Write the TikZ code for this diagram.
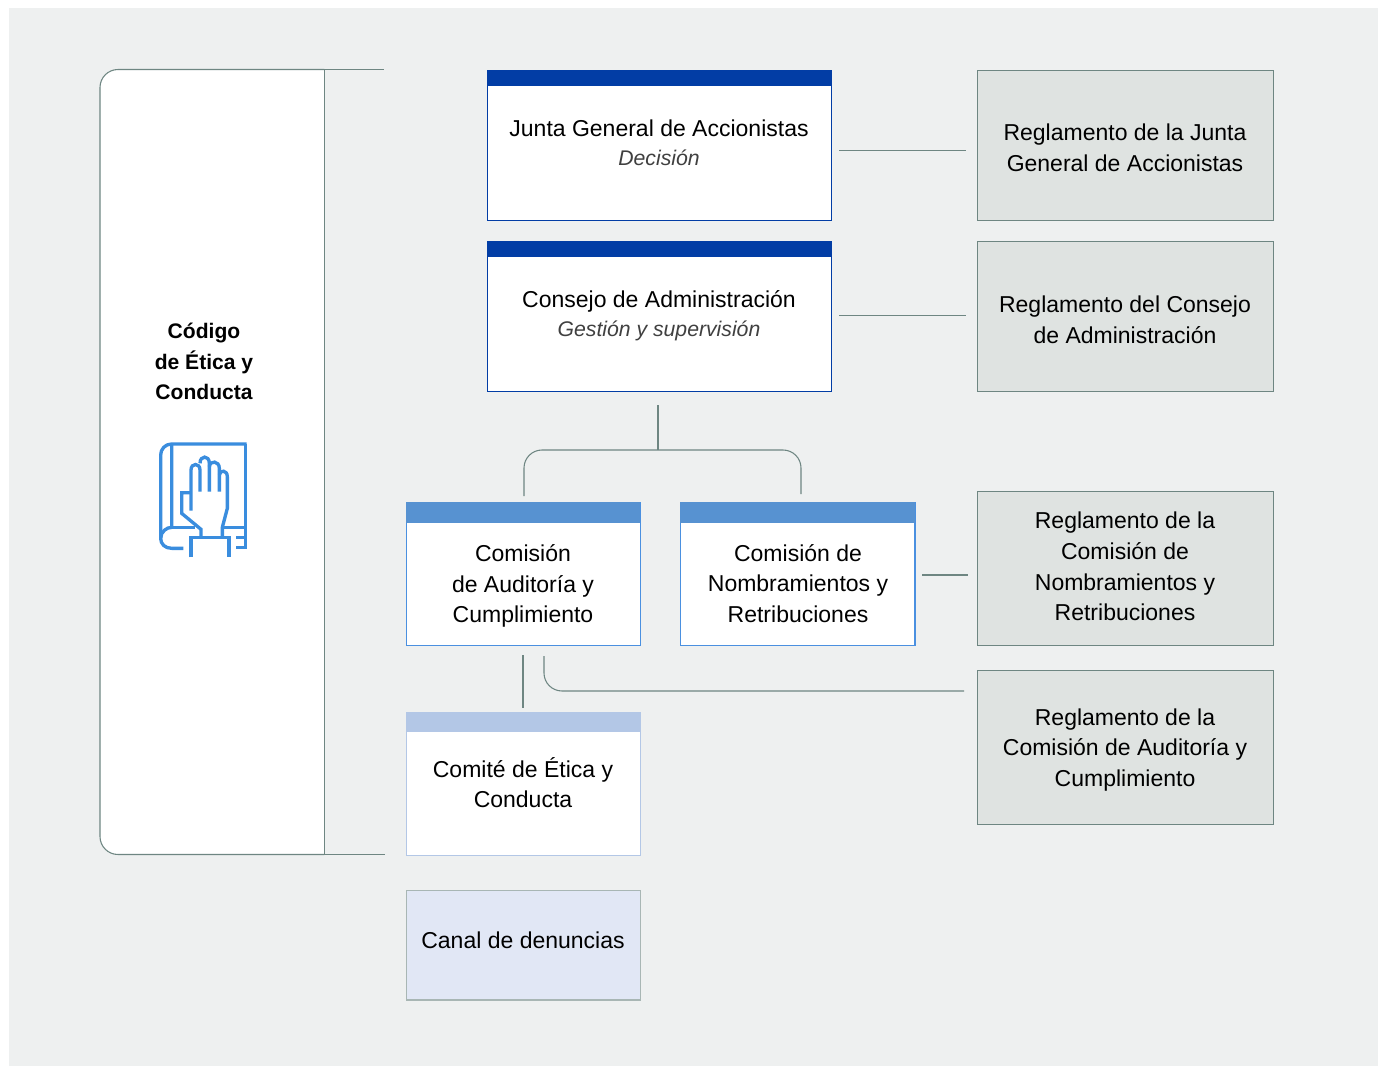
\documentclass[tikz,border=0pt]{standalone}
\usepackage{fontspec}
\setmainfont{Liberation Sans}
\usepackage{tikz}

\definecolor{panelgrey}{RGB}{238,240,240}
\definecolor{linegrey}{RGB}{110,134,130}
\definecolor{rulefill}{RGB}{223,227,225}
\definecolor{navyblue}{RGB}{2,61,165}
\definecolor{midblue}{RGB}{87,146,209}
\definecolor{midedge}{RGB}{74,144,224}
\definecolor{paleblue}{RGB}{179,199,230}
\definecolor{canalfill}{RGB}{225,231,245}
\definecolor{iconblue}{RGB}{58,141,222}

\newcommand{\subline}[1]{{\fontsize{15.9}{23}\selectfont\color{black!75}\textit{#1}}}

\tikzset{
  boxbase/.style={draw,anchor=north west,inner sep=0pt,line width=1pt},
  bandbase/.style={anchor=north west,inner sep=0pt,minimum height=#1},
  boxtext/.style={inner sep=0.75pt,align=center,font=\fontsize{17.25}{23}\selectfont},
  boldtext/.style={inner sep=0.75pt,align=center,font=\fontsize{15.8}{23}\selectfont\bfseries},
  link/.style={draw=linegrey,line width=0.8pt},
  linkround/.style={link,rounded corners=13.5}
}

\begin{document}
\begin{tikzpicture}[x=0.75pt,y=0.75pt,yscale=-1,xscale=1]
    \useasboundingbox (0,0) rectangle (1383,1066);
    %Shape: Background
    \fill [panelgrey] (9,8) rectangle (1378,1066);

    %Shape: Code panel
    \coordinate (panelnw) at (324.4,69.5);
    \coordinate (panelsw) at (324.4,854.5);
    \coordinate (paneltop) at (384,69.5);
    \coordinate (panelbot) at (385,854.5);
    \draw [link,fill=white,rounded corners=13.5] (panelsw) -- (100,854.5) -- (100,69.5) -- (panelnw);
    \draw [link] (panelnw) -- (panelsw);
    \draw [link] (panelnw) -- (paneltop);
    \draw [link] (panelsw) -- (panelbot);

    %Shape: Main boxes
    \node (junta) [boxbase,draw=navyblue,fill=white,minimum width=258.2pt,minimum height=112.5pt] at (486.5,70) {};
    \node (juntaband) [bandbase=12pt,fill=navyblue,minimum width=258.2pt] at (486.5,70) {};
    \node (consejo) [boxbase,draw=navyblue,fill=white,minimum width=258.2pt,minimum height=112.5pt] at (486.5,241) {};
    \node (consejoband) [bandbase=12pt,fill=navyblue,minimum width=258.2pt] at (486.5,241) {};

    %Shape: Committee boxes
    \node (auditoria) [boxbase,draw=midedge,fill=white,minimum width=175.8pt,minimum height=107.25pt] at (405.5,502) {};
    \node (auditoriaband) [bandbase=15.75pt,fill=midblue,minimum width=175.8pt] at (405.5,502) {};
    \node (nombramientos) [boxbase,draw=midedge,fill=white,minimum width=175.8pt,minimum height=107.25pt] at (680,502) {};
    \node (nombramientosband) [bandbase=15.75pt,fill=midblue,minimum width=175.8pt] at (680,502) {};
    \node (comite) [boxbase,draw=paleblue,fill=white,minimum width=175.8pt,minimum height=107.25pt] at (405.5,712) {};
    \node (comiteband) [bandbase=15pt,fill=paleblue,minimum width=175.8pt] at (405.5,712) {};
    \node (canal) [boxbase,draw=linegrey!60,fill=canalfill,minimum width=175.8pt,minimum height=82.2pt] at (405.5,889.6) {};

    %Shape: Rule boxes
    \node (regjunta) [boxbase,draw=linegrey,fill=rulefill,minimum width=222.3pt,minimum height=112.5pt] at (976.5,70) {};
    \node (regconsejo) [boxbase,draw=linegrey,fill=rulefill,minimum width=222.3pt,minimum height=112.5pt] at (976.5,241) {};
    \node (regnombra) [boxbase,draw=linegrey,fill=rulefill,minimum width=222.3pt,minimum height=115.5pt] at (976.5,490.6) {};
    \node (regaudit) [boxbase,draw=linegrey,fill=rulefill,minimum width=222.3pt,minimum height=115.5pt] at (976.5,669.6) {};

    %Shape: Connectors
    \coordinate (c1a) at (839,150.5);
    \coordinate (c1b) at (966,150.5);
    \draw [link] (c1a) -- (c1b);
    \coordinate (c2a) at (839,315.7);
    \coordinate (c2b) at (966,315.7);
    \draw [link] (c2a) -- (c2b);
    \coordinate (c3a) at (658,405);
    \coordinate (c3b) at (658,450);
    \draw [link] (c3a) -- (c3b);
    \coordinate (c4a) at (524,496);
    \coordinate (c4b) at (524,450);
    \coordinate (c4c) at (801,450);
    \coordinate (c4d) at (801,494);
    \draw [linkround] (c4a) -- (c4b) -- (c4c) -- (c4d);
    \coordinate (c5a) at (922,575);
    \coordinate (c5b) at (968,575);
    \draw [link] (c5a) -- (c5b);
    \coordinate (c6a) at (523,655);
    \coordinate (c6b) at (523,708);
    \draw [link] (c6a) -- (c6b);
    \coordinate (c7a) at (544,656);
    \coordinate (c7b) at (544,691);
    \coordinate (c7c) at (964,691);
    \draw [linkround] (c7a) -- (c7b) -- (c7c);

    %Shape: Icon
    \begin{scope}[shift={(130,420)},xscale=1/3,yscale=1/3,draw=iconblue,line width=2.5pt]
      \draw (350,72) -- (125,72) .. controls (105,72) and (92,88) .. (92,105) -- (92,355) .. controls (92,372) and (105,385) .. (125,385) -- (160,385);
      \draw (125,72) -- (125,322) .. controls (110,322) and (92,335) .. (92,355);
      \draw (125,322) -- (195,322);
      \draw (347,72) -- (347,385);
      \draw (283,322) -- (350,322);
      \draw (318,352) -- (350,352) (318,382) -- (350,382);
      \draw (183,412) -- (183,352) -- (297,352) -- (297,412);
      \draw (213,352) -- (213,328) -- (155,280) -- (155,218) -- (183,218);
      \draw (183,272) -- (183,150) .. controls (183,128) and (210,128) .. (210,150) -- (210,215);
      \draw (210,130) .. controls (210,105) and (238,105) .. (238,130) -- (238,215);
      \draw (238,140) .. controls (240,120) and (268,122) .. (268,145) -- (268,215);
      \draw (268,165) .. controls (270,148) and (292,150) .. (292,170) -- (292,265) -- (277,322) -- (277,352);
    \end{scope}

    % Text Node
    \node (codigo) [boldtext] at (204,361.5) {Código\\de Ética y\\Conducta};
    % Text Node
    \node (juntatext) [boxtext] at (659,143) {Junta General de Accionistas\\[-1.3pt]\subline{Decisión}};
    % Text Node
    \node (consejotext) [boxtext] at (659,315.5) {Consejo de Administración\\[-1.1pt]\subline{Gestión y supervisión}};
    % Text Node
    \node (auditoriatext) [boxtext] at (523,586) {Comisión\\de Auditoría y\\Cumplimiento};
    % Text Node
    \node (nombramientostext) [boxtext] at (798,583.5) {Comisión de\\Nombramientos y\\Retribuciones};
    % Text Node
    \node (comitetext) [boxtext] at (523,782.5) {Comité de Ética y\\Conducta};
    % Text Node
    \node (canaltext) [boxtext] at (523,940) {Canal de denuncias};
    % Text Node
    \node (regjuntatext) [boxtext] at (1125,148) {Reglamento de la Junta\\General de Accionistas};
    % Text Node
    \node (regconsejotext) [boxtext] at (1125,319.5) {Reglamento del Consejo\\de Administración};
    % Text Node
    \node (regnombratext) [boxtext] at (1125,566.5) {Reglamento de la\\Comisión de\\Nombramientos y\\Retribuciones};
    % Text Node
    \node (regaudittext) [boxtext] at (1125,750) {Reglamento de la\\Comisión de Auditoría y\\Cumplimiento};
\end{tikzpicture}
\end{document}
